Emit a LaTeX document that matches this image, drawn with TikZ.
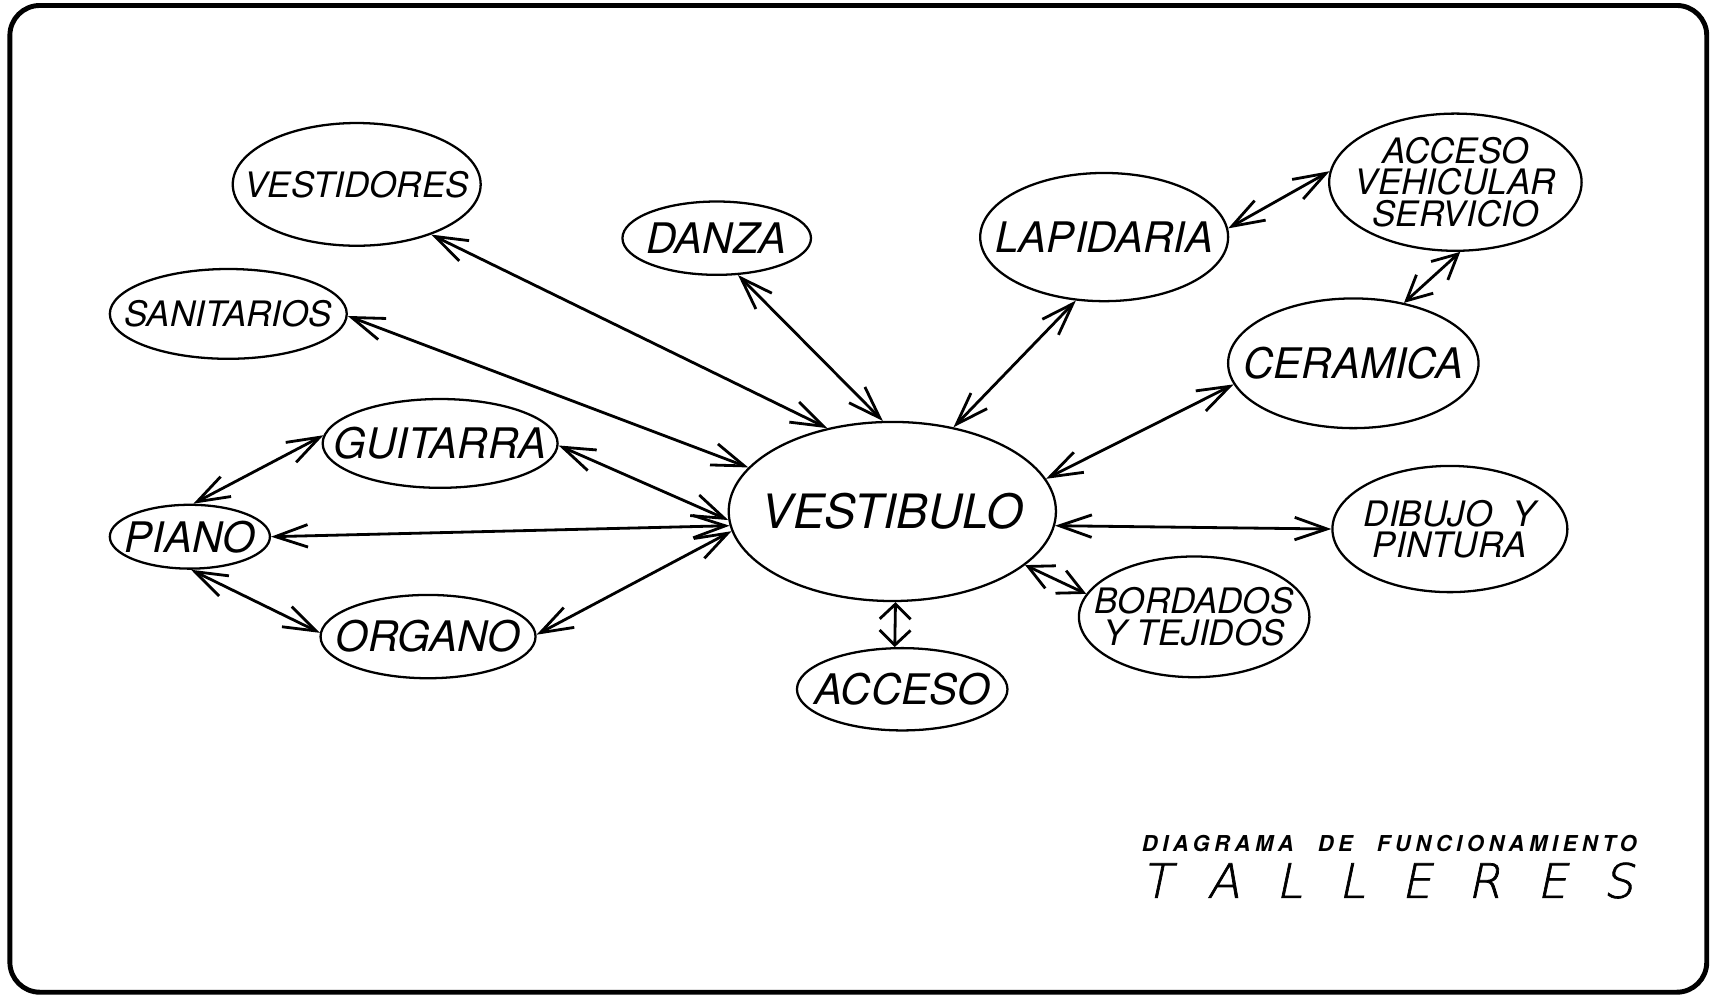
\documentclass[tikz,border=0pt]{standalone}
\usepackage{fontspec}
\setmainfont{TeX Gyre Heros}
\newfontfamily\fina[FakeSlant=0.21,FakeBold=1.5]{DejaVuSans-ExtraLight.ttf}
\usetikzlibrary{shapes.geometric,arrows.meta}

\begin{document}
\begin{tikzpicture}[x=0.022cm, y=-0.022cm,
  ov/.style 2 args={draw, ellipse, line width=1.3pt, inner sep=0pt,
                    minimum width=#1, minimum height=#2},
  grande/.style={font=\fontsize{27}{30}\selectfont\itshape},
  medio/.style={font=\fontsize{24}{26}\selectfont\itshape},
  chico/.style={font=\fontsize{20}{18}\selectfont\itshape, align=center},
  flecha/.style={line width=1.6pt, >={Straight Barb[length=0.65cm,width=0.45cm]}, <->},
  corta/.style={line width=1.6pt, >={Straight Barb[length=0.5cm,width=0.5cm]}, <->},
  minima/.style={line width=1.6pt, >={Straight Barb[length=0.3cm,width=0.62cm]}, <->}
]
\useasboundingbox (0,0) rectangle (1568,907);
\draw[line width=2.8pt, rounded corners=0.6cm] (9,5) rectangle (1555,904);

% locales
\node[ov={4.97cm}{2.46cm}, label={[chico]center:VESTIDORES}] (vdr) at (325,168) {};
\node[ov={3.78cm}{1.47cm}, label={[medio]center:DANZA}] (dan) at (653,217) {};
\node[ov={4.97cm}{2.57cm}, label={[medio]center:LAPIDARIA}] (lap) at (1006,216) {};
\node[ov={5.06cm}{2.75cm}, label={[chico]center:ACCESO\\VEHICULAR\\SERVICIO}] (avs) at (1326,166) {};
\node[ov={4.75cm}{1.80cm}, label={[chico]center:SANITARIOS}] (san) at (208,286) {};
\node[ov={5.02cm}{2.60cm}, label={[medio]center:CERAMICA}] (cer) at (1233,331) {};
\node[ov={4.71cm}{1.78cm}, label={[medio]center:GUITARRA}] (gui) at (401,404) {};
\node[ov={6.56cm}{3.59cm}, label={[grande]center:VESTIBULO}] (vb) at (813,466) {};
\node[ov={3.21cm}{1.28cm}, label={[medio]center:PIANO}] (pia) at (173,489) {};
\node[ov={4.71cm}{2.53cm}, label={[chico]center:DIBUJO\hspace{0.3em} Y\\PINTURA}] (dib) at (1321,482) {};
\node[ov={4.62cm}{2.42cm}, label={[chico]center:BORDADOS\\Y TEJIDOS}] (bor) at (1088,562) {};
\node[ov={4.31cm}{1.67cm}, label={[medio]center:ORGANO}] (org) at (390,580) {};
\node[ov={4.22cm}{1.65cm}, label={[medio]center:ACCESO}] (acc) at (822,628) {};

% relaciones
\draw[flecha] (vdr.-34) -- (vb.128);
\draw[flecha] (san.-1) -- (vb.163);
\draw[flecha] (dan.-60) -- (vb.96);
\draw[flecha] (lap.-114) -- (vb.54);
\draw[flecha] (lap.4) -- (avs.175);
\draw[corta] (avs.-86) -- (cer.50);
\draw[flecha] (cer.190) -- (vb.12);
\draw[flecha] (dib.180) -- (vb.-5);
\draw[corta] (bor.168) -- (vb.-22);
\draw[minima] (acc.100) -- (vb.-88);
\draw[flecha] (org.1) -- (vb.187);
\draw[flecha] (gui.-1) -- (vb.183);
\draw[flecha] (pia.0) -- (vb.185);
\draw[flecha] (pia.84) -- (gui.176);
\draw[flecha] (pia.-88) -- (org.178);

% titulo
\node[anchor=base west, inner sep=0pt,
      font=\fontsize{12.5}{13}\selectfont\bfseries\itshape\addfontfeature{LetterSpace=21}]
  (diag) at (1040,776) {DIAGRAMA\hspace{1.1em}DE\hspace{1.1em}FUNCIONAMIENTO};
\node[anchor=base west, inner sep=0pt, font=\fina\fontsize{27}{30}\selectfont]
  (tal) at (1040,818) {\makebox[9.85cm]{T\hfill A\hfill L\hfill L\hfill E\hfill R\hfill E\hfill S}};
\end{tikzpicture}
\end{document}
